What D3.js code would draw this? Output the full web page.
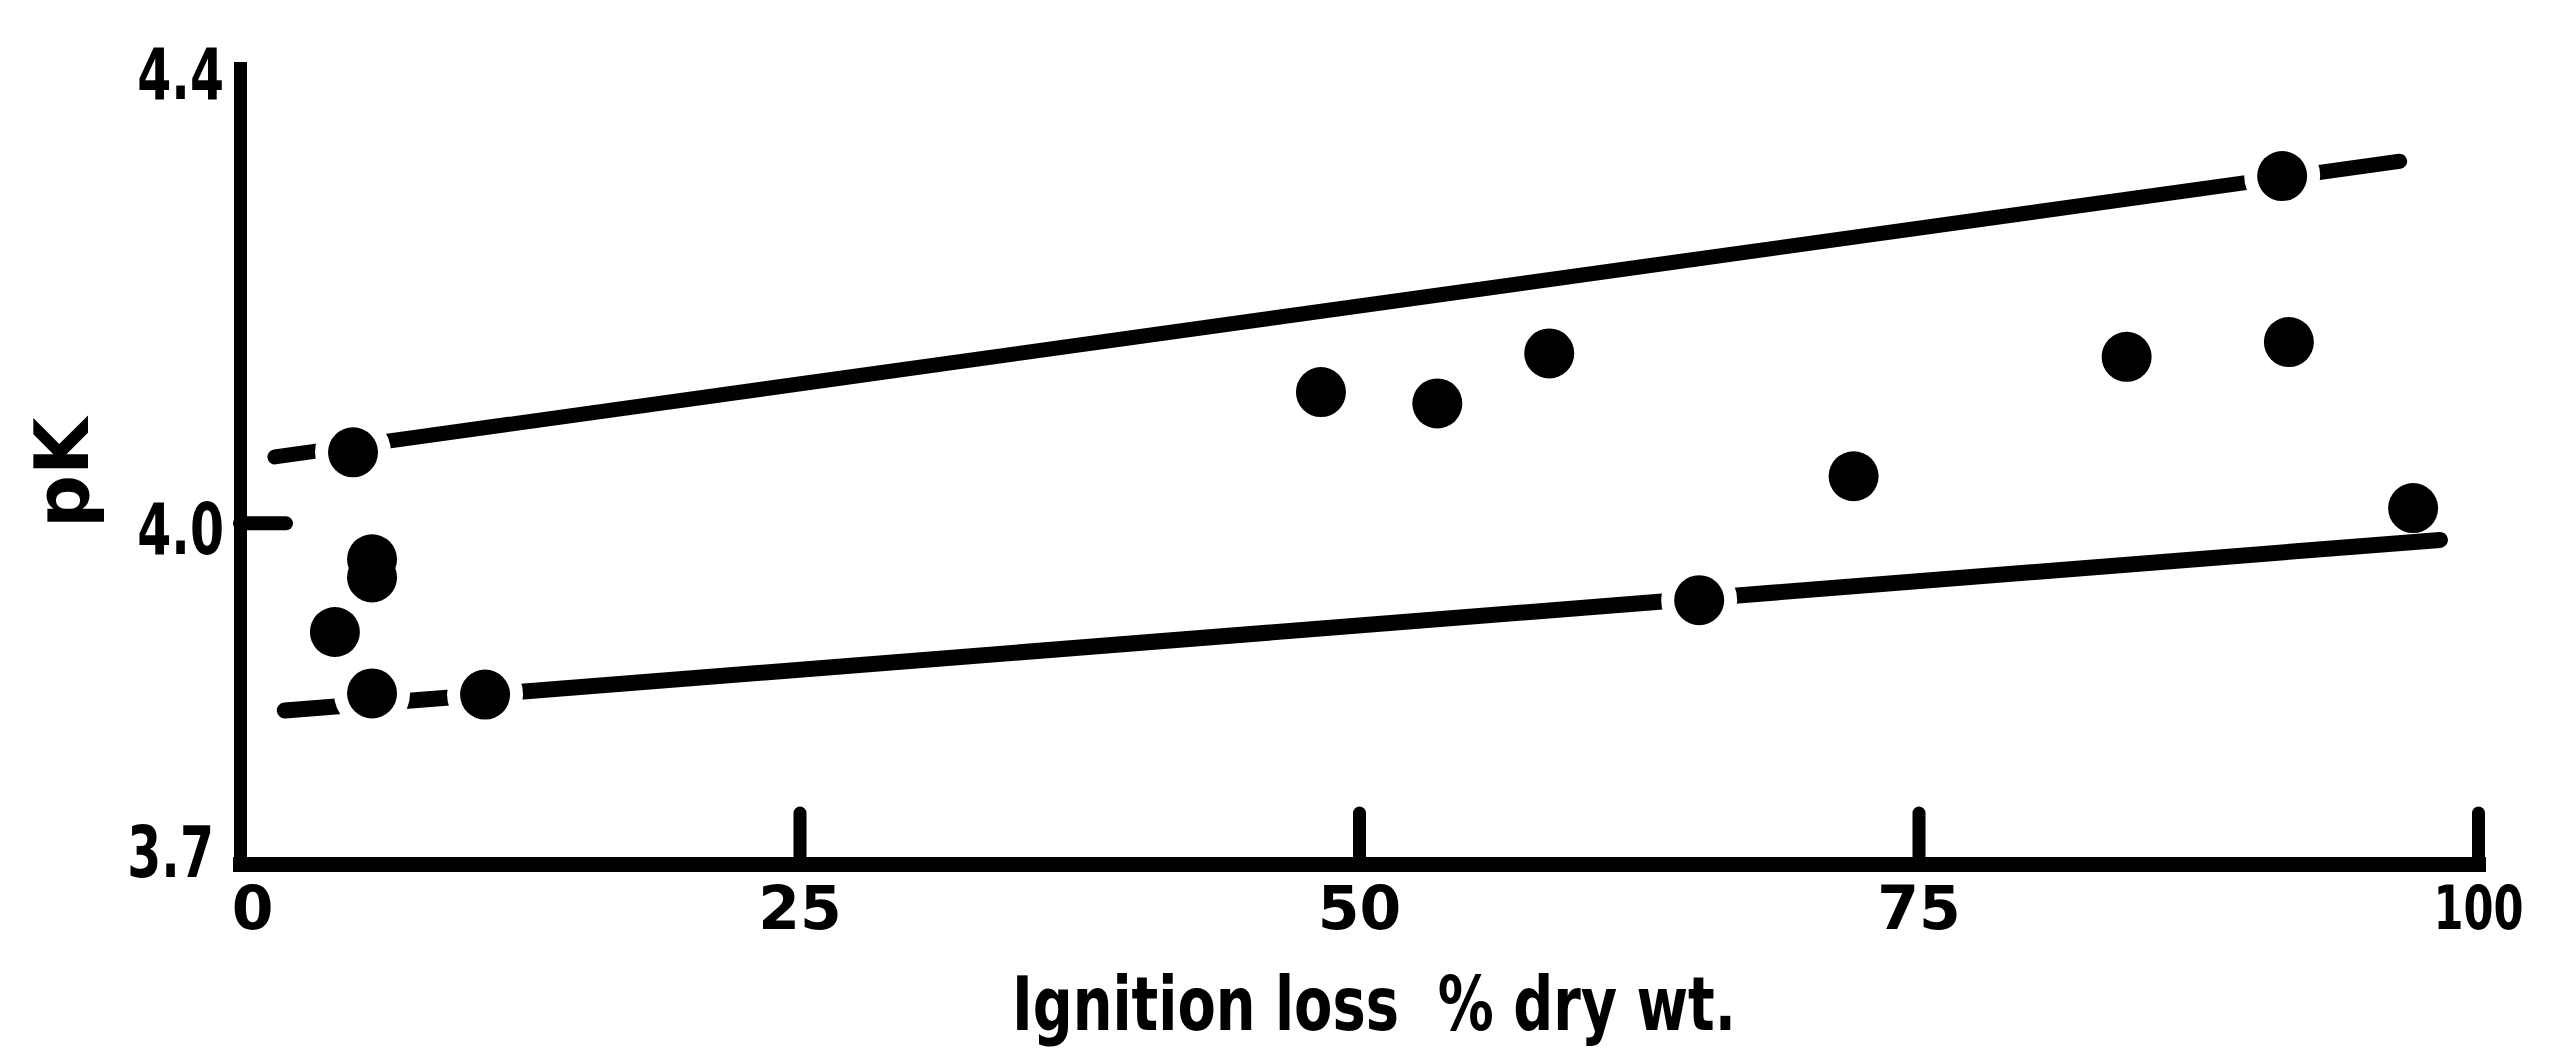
<!DOCTYPE html>
<html>
<head>
<meta charset="utf-8">
<script src="https://cdn.jsdelivr.net/npm/d3@7/dist/d3.min.js"></script>
<style>
  html, body { margin: 0; padding: 0; background: #fff; }
  svg { display: block; }
  text { font-family: "DejaVu Sans", sans-serif; font-weight: bold; fill: #000; }
</style>
</head>
<body>
<svg id="chart" width="2550" height="1055"></svg>
<script>
// Axis ticks
const xTicks = [0, 25, 50, 75, 100];
const xTickLabels = ["0", "25", "50", "75", "100"];
const yTicks = [3.7, 4.0, 4.4];
const yTickLabels = ["3.7", "4.0", "4.4"];

// Observations: ignition loss (% dry wt.) against pK
const ignitionLoss = [5.05, 5.9, 5.9, 4.24, 5.9, 10.95, 48.3, 53.5, 58.5, 65.2, 72.1, 84.3, 91.55, 91.25, 97.1];
const pK           = [4.062, 3.968, 3.952, 3.904, 3.850, 3.849, 4.115, 4.105, 4.149, 3.932, 4.041, 4.146, 4.159, 4.305, 4.013];
// points that sit on a limit line, which is broken around them
const breaksLine   = [true, false, false, false, true, true, false, false, false, true, false, false, false, true, false];

// Upper and lower limit lines
const upperLineX = [1.56, 96.5];
const upperLineY = [4.058, 4.318];
const lowerLineX = [2.0, 98.3];
const lowerLineY = [3.835, 3.985];

const svg = d3.select("#chart");
const x = d3.scaleLinear().domain([0, 100]).range([240, 2478]);
const y = d3.scaleLinear().domain([3.7, 4.4]).range([864, 68]);

const ink = "#000";

// x axis: ticks point up into the plot
const gx = svg.append("g")
  .attr("transform", `translate(0,${y(3.7)})`)
  .call(d3.axisBottom(x)
    .tickValues(xTicks)
    .tickFormat((d, i) => xTickLabels[i])
    .tickSize(-51)
    .tickSizeOuter(0)
    .tickPadding(22));
gx.select(".domain").attr("stroke", ink).attr("stroke-width", 15).attr("stroke-linecap", "square");
gx.selectAll(".tick line").attr("stroke", ink).attr("stroke-width", 13)
  .attr("stroke-linecap", "round")
  .attr("display", d => d === 0 ? "none" : null);
gx.selectAll(".tick text")
  .attr("font-size", 60)
  .attr("font-family", "'DejaVu Sans', sans-serif")
  .attr("font-weight", "bold")
  .attr("fill", ink)
  .attr("dx", d => d === 0 ? 12 : 0)
  // the hundred is lettered narrow
  .attr("transform", d => d === 100 ? "scale(0.72,1)" : null);

// y axis: only the 4.0 tick is drawn, pointing into the plot
const yLabelSqueeze = 0.68;
const gy = svg.append("g")
  .attr("transform", `translate(${x(0)},0)`)
  .call(d3.axisLeft(y)
    .tickValues(yTicks)
    .tickFormat((d, i) => yTickLabels[i])
    .tickSize(-46)
    .tickSizeOuter(0)
    .tickPadding(16));
gy.select(".domain").attr("stroke", ink).attr("stroke-width", 13).attr("stroke-linecap", "square");
gy.selectAll(".tick line").attr("stroke", ink).attr("stroke-width", 14)
  .attr("stroke-linecap", "round")
  .attr("display", d => d === 4.0 ? null : "none");
gy.selectAll(".tick text")
  .attr("font-size", 72)
  .attr("font-family", "'DejaVu Sans', sans-serif")
  .attr("font-weight", "bold")
  .attr("fill", ink)
  .attr("x", d => -(d === 3.7 ? 26 : 16) / yLabelSqueeze)
  .attr("dy", d => d === 3.7 ? "0.18em" : "0.42em")
  .attr("transform", `scale(${yLabelSqueeze},1)`);

// limit lines
const line = d3.line().x(d => x(d[0])).y(d => y(d[1]));
const upper = upperLineX.map((v, i) => [v, upperLineY[i]]);
const lower = lowerLineX.map((v, i) => [v, lowerLineY[i]]);
svg.append("g").selectAll("path")
  .data([upper, lower])
  .join("path")
  .attr("d", line)
  .attr("fill", "none")
  .attr("stroke", ink)
  .attr("stroke-width", (d, i) => i === 0 ? 15 : 16)
  .attr("stroke-linecap", "round");

// gaps in the lines around the points that lie on them
const pts = ignitionLoss.map((v, i) => ({ x: v, y: pK[i], gap: breaksLine[i] }));
svg.append("g").selectAll("circle")
  .data(pts.filter(d => d.gap))
  .join("circle")
  .attr("cx", d => x(d.x))
  .attr("cy", d => y(d.y))
  .attr("r", 38)
  .attr("fill", "#fff");

// observations
svg.append("g").selectAll("circle")
  .data(pts)
  .join("circle")
  .attr("cx", d => x(d.x))
  .attr("cy", d => y(d.y))
  .attr("r", 25)
  .attr("fill", ink);

// axis titles
svg.append("text")
  .attr("x", 1012)
  .attr("y", 1030)
  .attr("font-size", 74)
  .attr("textLength", 724)
  .attr("lengthAdjust", "spacingAndGlyphs")
  .attr("xml:space", "preserve")
  .text("Ignition loss  % dry wt.");

svg.append("text")
  .attr("transform", "translate(88,528) rotate(-90)")
  .attr("font-size", 74)
  .attr("text-anchor", "start")
  .text("pK");
</script>
</body>
</html>
